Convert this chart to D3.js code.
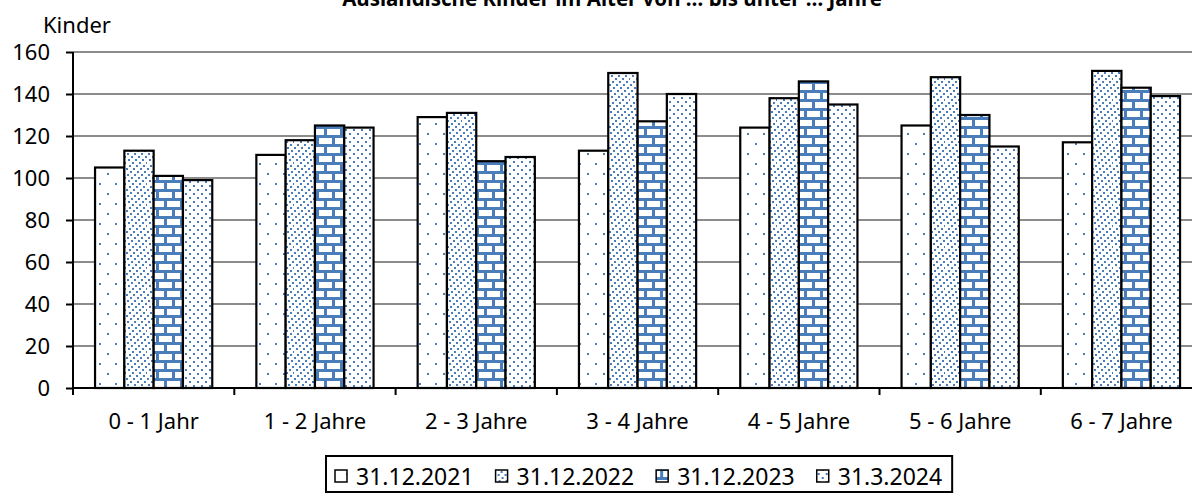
<!DOCTYPE html>
<html><head><meta charset="utf-8">
<script src="https://cdn.jsdelivr.net/npm/d3@7"></script>
<style>body{margin:0;background:#fff}svg{display:block;font-family:"Noto Sans",sans-serif}</style>
</head><body><svg id="c" width="1192" height="494"></svg>
<script>
const categories = ["0 - 1 Jahr","1 - 2 Jahre","2 - 3 Jahre","3 - 4 Jahre","4 - 5 Jahre","5 - 6 Jahre","6 - 7 Jahre"];
const seriesNames = ["31.12.2021","31.12.2022","31.12.2023","31.3.2024"];
const s2021 = [105,111,129,113,124,125,117];
const s2022 = [113,118,131,150,138,148,151];
const s2023 = [101,125,108,127,146,130,143];
const s2024 = [99,124,110,140,135,115,139];
const yTicks = [0,20,40,60,80,100,120,140,160];
const title = "Ausländische Kinder im Alter von … bis unter … Jahre";
const yLabel = "Kinder";

const series = [s2021,s2022,s2023,s2024];
const blue = "#4a7ebb";
const svg = d3.select("#c");
const defs = svg.append("defs");
function pat(id,w,h,draw){const p=defs.append("pattern").attr("id",id).attr("patternUnits","userSpaceOnUse").attr("width",w).attr("height",h);p.append("rect").attr("width",w).attr("height",h).attr("fill","#fff");draw(p);}
function dots(p,arr){arr.forEach(d=>p.append("rect").attr("x",d[0]).attr("y",d[1]).attr("width",2).attr("height",2).attr("fill",blue));}
pat("p0",16,20,p=>dots(p,[[3,3],[11,13]]));
pat("p1",21,21,p=>{const a=[];for(let k=0;k<7;k++)for(let m=0;m<3;m++)a.push([(3*k+7*m)%21,(21-3*k)%21]);dots(p,a);});
pat("p2",16,18,p=>{
  p.append("rect").attr("x",0).attr("y",0).attr("width",16).attr("height",3).attr("fill",blue);
  p.append("rect").attr("x",0).attr("y",9).attr("width",16).attr("height",3).attr("fill",blue);
  p.append("rect").attr("x",4).attr("y",0).attr("width",3).attr("height",9).attr("fill",blue);
  p.append("rect").attr("x",12).attr("y",9).attr("width",3).attr("height",9).attr("fill",blue);
});
pat("p3",8,8,p=>dots(p,[[1,1],[5,5]]));
const fills=["url(#p0)","url(#p1)","url(#p2)","url(#p3)"];

const x0=73, catW=161.3;
const x = d3.scaleBand().domain(categories).range([x0, x0+catW*7]).paddingInner(0).paddingOuter(0);
const y = d3.scaleLinear().domain([0,160]).range([388,52]);
const barW = 29.3;
const xs = d3.scaleBand().domain(seriesNames).range([0, barW*4]);
const FS = 22;

// gridlines
svg.append("g").selectAll("line").data(yTicks.slice(1)).join("line")
  .attr("x1",x0).attr("x2",1192).attr("y1",d=>y(d)).attr("y2",d=>y(d))
  .attr("stroke","#8c8c8c").attr("stroke-width",2);

// bars
const offset = (catW - barW*4)/2;
categories.forEach((c,i)=>{
  series.forEach((s,j)=>{
    svg.append("rect").attr("x",x(c)+offset+xs(seriesNames[j])).attr("y",y(s[i]))
      .attr("width",barW).attr("height",y(0)-y(s[i]))
      .attr("fill",fills[j]).attr("stroke","#000").attr("stroke-width",2.2);
  });
});

// y axis
const ya = svg.append("g").attr("transform",`translate(${x0},0)`).call(d3.axisLeft(y).tickValues(yTicks).tickSize(7).tickPadding(16));
ya.attr("font-size",null).attr("font-family",null);
ya.select(".domain").attr("stroke","#000").attr("stroke-width",2).attr("d",`M0,${y(160)}V${y(0)}`);
ya.selectAll(".tick line").attr("stroke","#000").attr("stroke-width",2);
ya.selectAll("text").attr("font-size",FS).attr("fill","#000");

// x axis
const xa = svg.append("g").attr("transform",`translate(0,${y(0)})`);
xa.append("line").attr("x1",x0).attr("x2",1192).attr("stroke","#000").attr("stroke-width",2);
xa.selectAll(".tk").data(d3.range(8)).join("line").attr("x1",i=>x0+i*catW).attr("x2",i=>x0+i*catW).attr("y1",0).attr("y2",7).attr("stroke","#000").attr("stroke-width",2);
xa.selectAll("text").data(categories).join("text").attr("x",d=>x(d)+x.bandwidth()/2).attr("y",41)
  .attr("text-anchor","middle").attr("font-size",FS).text(d=>d);

// labels
svg.append("text").attr("x",43).attr("y",33).attr("font-size",FS).text(yLabel);
svg.append("text").attr("x",612).attr("y",6).attr("text-anchor","middle").attr("font-size",20.5).attr("font-weight","bold").text(title);

// legend
const lg = svg.append("g");
const box = lg.append("rect").attr("x",326).attr("y",456).attr("height",36).attr("fill","#fff").attr("stroke","#000").attr("stroke-width",2);
let cx=335;
seriesNames.forEach((n,j)=>{
  const g=lg.append("g").attr("transform",`translate(${cx},0)`);
  g.append("rect").attr("x",0).attr("y",470).attr("width",12).attr("height",12).attr("fill",fills[j]).attr("stroke","#000").attr("stroke-width",1.5);
  const t=g.append("text").attr("x",21).attr("y",485).attr("font-size",23).text(n);
  cx += 21 + t.node().getComputedTextLength() + (j<3?22:10);
});
box.attr("width",cx-326);
</script></body></html>
